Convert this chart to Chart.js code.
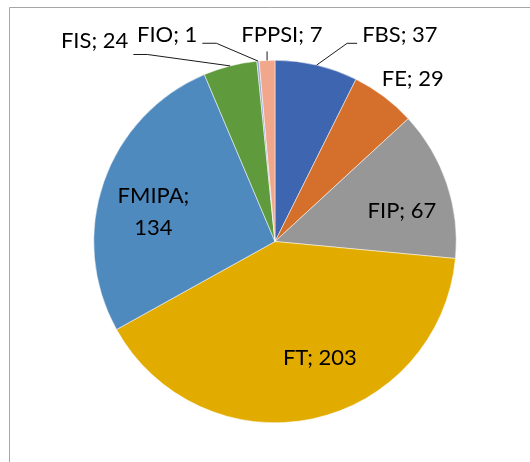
<!DOCTYPE html>
<html>
<head>
<meta charset="utf-8">
<script src="https://cdn.jsdelivr.net/npm/chart.js@4/dist/chart.umd.min.js"></script>
<style>
  html, body { margin: 0; padding: 0; background: #fff; }
</style>
</head>
<body>
<canvas id="pieChart" width="530" height="462"></canvas>
<script>
const pie = document.getElementById("pieChart");

// DATA
const faculties = ['FBS', 'FE', 'FIP', 'FT', 'FMIPA', 'FIS', 'FIO', 'FPPSI'];
const counts = [37, 29, 67, 203, 134, 24, 1, 7];
const sliceColors = ['#3d65b0', '#d5702c', '#979797', '#e2ab00', '#4f8abf', '#5f9b3d', '#9aa6dc', '#f0a78c'];

// where each label sits: angle from 12 o'clock (deg, clockwise), distance as part of radius
const labelSpots = [
    { deg: 31.2, r: 1.33, leader: 'right' },
    { deg: 40.3, r: 1.175 },
    { deg: 76.5, r: 0.72 },
    { deg: 158.9, r: 0.688 },
    { deg: 283.6, r: 0.69, twoLines: true },
    { deg: 318.1, r: 1.49, leader: 'left', dy: 14 },
    { deg: 332.4, r: 1.284, leader: 'left' },
    { deg: 1.9, r: 1.138, leader: 'up' }
];

const frame = {
    id: 'frame',
    beforeDraw(chart) {
        const ctx = chart.ctx;
        ctx.save();
        ctx.strokeStyle = '#a6a6a6';
        ctx.lineWidth = 1;
        ctx.beginPath();
        ctx.moveTo(9.5, chart.height + 2);
        ctx.lineTo(9.5, 7.5);
        ctx.lineTo(chart.width + 2, 7.5);
        ctx.stroke();
        ctx.restore();
    }
};

const sliceLabels = {
    id: 'sliceLabels',
    afterDatasetsDraw(chart) {
        const ctx = chart.ctx;
        const meta = chart.getDatasetMeta(0);
        ctx.save();
        ctx.font = '22px Lato';
        ctx.fillStyle = '#000';
        ctx.strokeStyle = '#1a1a1a';
        ctx.lineWidth = 1;
        ctx.textAlign = 'center';
        ctx.textBaseline = 'middle';
        meta.data.forEach((arc, i) => {
            const p = arc.getProps(['x', 'y', 'startAngle', 'endAngle', 'outerRadius'], true);
            const spot = labelSpots[i];
            const a = spot.deg * Math.PI / 180 - Math.PI / 2;
            const lx = p.x + spot.r * p.outerRadius * Math.cos(a);
            const ly = p.y + spot.r * p.outerRadius * Math.sin(a);
            const text = faculties[i] + '; ' + counts[i];

            if (spot.twoLines) {
                ctx.fillText(faculties[i] + ';', lx, ly - 16);
                ctx.fillText(String(counts[i]), lx, ly + 16);
            } else {
                ctx.fillText(text, lx, ly);
            }

            if (!spot.leader) return;
            const mid = (p.startAngle + p.endAngle) / 2;
            const ex = p.x + p.outerRadius * Math.cos(mid);
            const ey = p.y + p.outerRadius * Math.sin(mid);
            const w = ctx.measureText(text).width;
            const ay = ly + (spot.dy || 8);
            ctx.beginPath();
            ctx.moveTo(ex, ey);
            if (spot.leader === 'right') {
                const ax = lx - w / 2 - 5;
                ctx.lineTo(ax - 10, ay);
                ctx.lineTo(ax, ay);
            } else if (spot.leader === 'left') {
                const ax = lx + w / 2 + 5;
                ctx.lineTo(ax + 14, ay);
                ctx.lineTo(ax, ay);
            } else {
                ctx.lineTo(ex, ey - 9);
            }
            ctx.stroke();
        });
        ctx.restore();
    }
};

let pieChart = new Chart(pie, {
    type: 'pie',
    data: {
        labels: faculties,
        datasets: [{
            data: counts,
            backgroundColor: sliceColors,
            borderColor: '#ffffff',
            borderWidth: 0.5
        }]
    },
    options: {
        responsive: false,
        animation: false,
        layout: {
            padding: { left: 93.5, right: 73.5, top: 60, bottom: 39 }
        },
        plugins: {
            legend: { display: false },
            tooltip: { enabled: false }
        }
    },
    plugins: [frame, sliceLabels]
});
</script>
</body>
</html>
